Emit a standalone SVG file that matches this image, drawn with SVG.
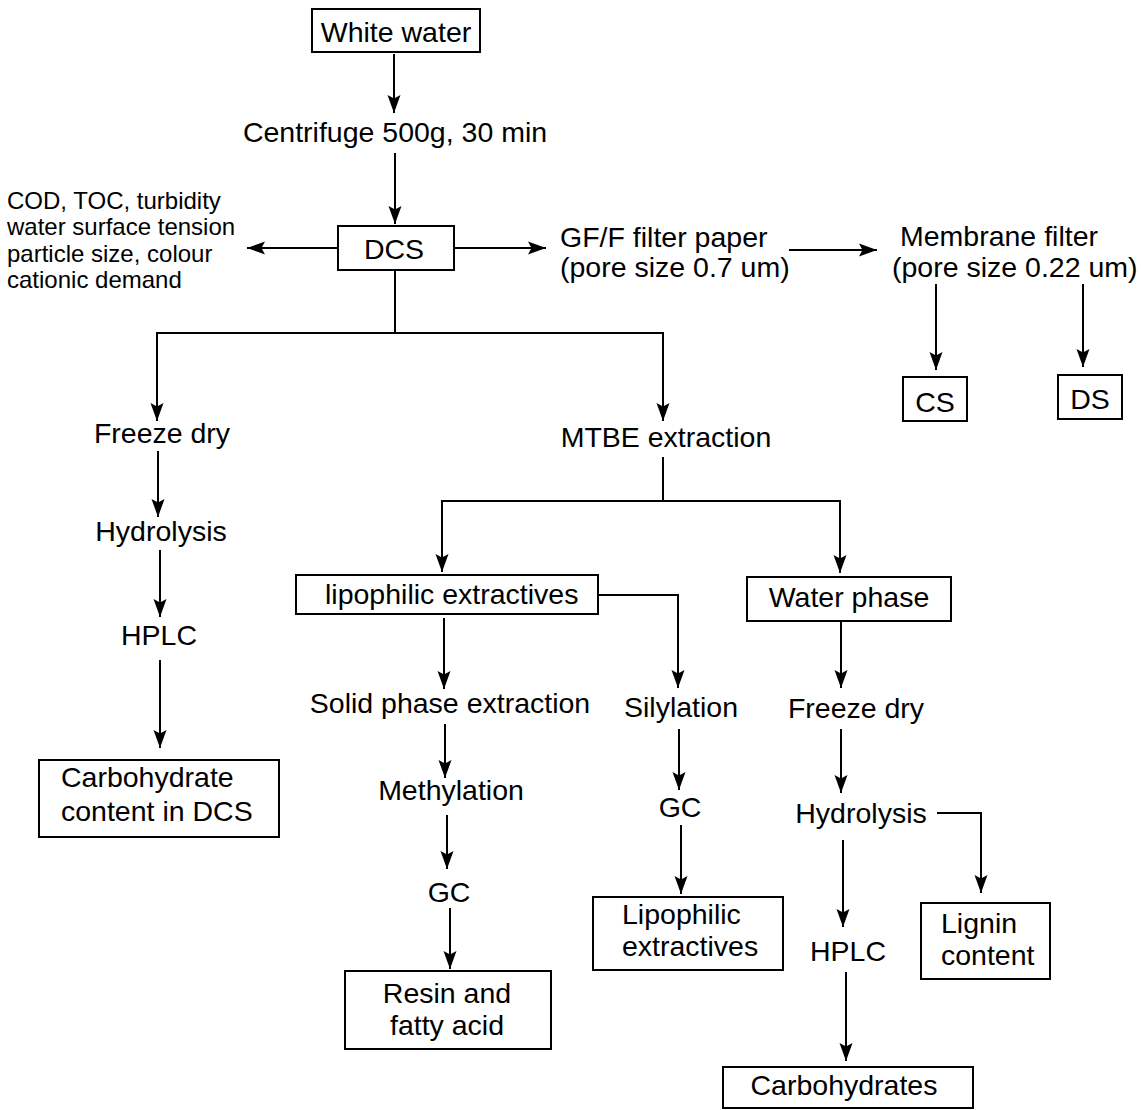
<svg xmlns="http://www.w3.org/2000/svg" width="1141" height="1110" viewBox="0 0 1141 1110">
<defs>
<marker id="arr" markerUnits="userSpaceOnUse" markerWidth="18" markerHeight="14" refX="18" refY="7" orient="auto">
<path d="M0,0.5 L18,7 L0,13.5 L3.5,7 Z" fill="#000"/>
</marker>
<style>
text{font-family:"Liberation Sans",Arial,Helvetica,sans-serif;font-size:28.5px;fill:#000}
.s{font-size:24px}
.m{text-anchor:middle}
rect{fill:#fff;stroke:#000;stroke-width:2}
.c path{fill:none;stroke:#000;stroke-width:2}
.c .a{marker-end:url(#arr)}
</style>
</defs>
<rect x="0" y="0" width="1141" height="1110" style="fill:#fff;stroke:none"/>
<g class="c" id="connectors">
<path class="a" d="M394,54 V113"/>
<path class="a" d="M395,153 V224"/>
<path class="a" d="M338,248 H247"/>
<path class="a" d="M454,248 H546"/>
<path class="a" d="M789,250 H877"/>
<path class="a" d="M936,284 V370"/>
<path class="a" d="M1083,284 V367"/>
<path d="M395,270 V333"/>
<path class="a" d="M395,333 H157 V421"/>
<path class="a" d="M395,333 H663 V421"/>
<path class="a" d="M158,451 V517"/>
<path class="a" d="M160,550 V617"/>
<path class="a" d="M160,660 V748"/>
<path d="M663,457 V501"/>
<path class="a" d="M663,501 H442 V572"/>
<path class="a" d="M663,501 H840 V573"/>
<path class="a" d="M444,618 V689"/>
<path class="a" d="M598,595 H678 V688"/>
<path class="a" d="M445,724 V778"/>
<path class="a" d="M447,815 V869"/>
<path class="a" d="M450,908 V969"/>
<path class="a" d="M679,729 V790"/>
<path class="a" d="M681,825 V894"/>
<path class="a" d="M841,621 V688"/>
<path class="a" d="M841,729 V793"/>
<path class="a" d="M937,813 H981 V893"/>
<path class="a" d="M843,840 V927"/>
<path class="a" d="M846,972 V1061"/>
</g>
<g id="white-water"><rect x="312" y="9" width="168" height="43"/><text class="m" x="396" y="42">White water</text></g>
<g id="centrifuge"><text class="m" x="395" y="142">Centrifuge 500g, 30 min</text></g>
<g id="dcs"><rect x="338" y="226" width="116" height="44"/><text class="m" x="394" y="259">DCS</text></g>
<g id="params"><text class="s" x="7" y="209">COD, TOC, turbidity</text><text class="s" x="7" y="235">water surface tension</text><text class="s" x="7" y="262">particle size, colour</text><text class="s" x="7" y="288">cationic demand</text></g>
<g id="gff"><text x="560" y="247">GF/F filter paper</text><text x="560" y="277">(pore size 0.7 um)</text></g>
<g id="membrane"><text x="900" y="246">Membrane filter</text><text x="892" y="277">(pore size 0.22 um)</text></g>
<g id="cs"><rect x="903" y="377" width="64" height="44"/><text class="m" x="935" y="412">CS</text></g>
<g id="ds"><rect x="1058" y="375" width="64" height="44"/><text class="m" x="1090" y="409">DS</text></g>
<g id="freeze-dry-1"><text class="m" x="162" y="443">Freeze dry</text></g>
<g id="hydrolysis-1"><text class="m" x="161" y="541">Hydrolysis</text></g>
<g id="hplc-1"><text class="m" x="159" y="645">HPLC</text></g>
<g id="carb-dcs"><rect x="39" y="760" width="240" height="77"/><text x="61" y="787">Carbohydrate</text><text x="61" y="821">content in DCS</text></g>
<g id="mtbe"><text class="m" x="666" y="447">MTBE extraction</text></g>
<g id="lipo-ext"><rect x="296" y="575" width="302" height="39"/><text x="325" y="604">lipophilic extractives</text></g>
<g id="water-phase"><rect x="747" y="577" width="204" height="44"/><text class="m" x="849" y="607">Water phase</text></g>
<g id="spe"><text class="m" x="450" y="713">Solid phase extraction</text></g>
<g id="silylation"><text class="m" x="681" y="717">Silylation</text></g>
<g id="freeze-dry-2"><text class="m" x="856" y="718">Freeze dry</text></g>
<g id="methylation"><text class="m" x="451" y="800">Methylation</text></g>
<g id="gc-1"><text class="m" x="449" y="902">GC</text></g>
<g id="gc-2"><text class="m" x="680" y="817">GC</text></g>
<g id="hydrolysis-2"><text class="m" x="861" y="823">Hydrolysis</text></g>
<g id="resin"><rect x="345" y="971" width="206" height="78"/><text class="m" x="447" y="1003">Resin and</text><text class="m" x="447" y="1035">fatty acid</text></g>
<g id="lipophilic"><rect x="593" y="897" width="190" height="73"/><text x="622" y="924">Lipophilic</text><text x="622" y="956">extractives</text></g>
<g id="hplc-2"><text class="m" x="848" y="961">HPLC</text></g>
<g id="lignin"><rect x="921" y="903" width="129" height="76"/><text x="941" y="933">Lignin</text><text x="941" y="965">content</text></g>
<g id="carbohydrates"><rect x="723" y="1067" width="250" height="41"/><text class="m" x="844" y="1095">Carbohydrates</text></g>
</svg>
